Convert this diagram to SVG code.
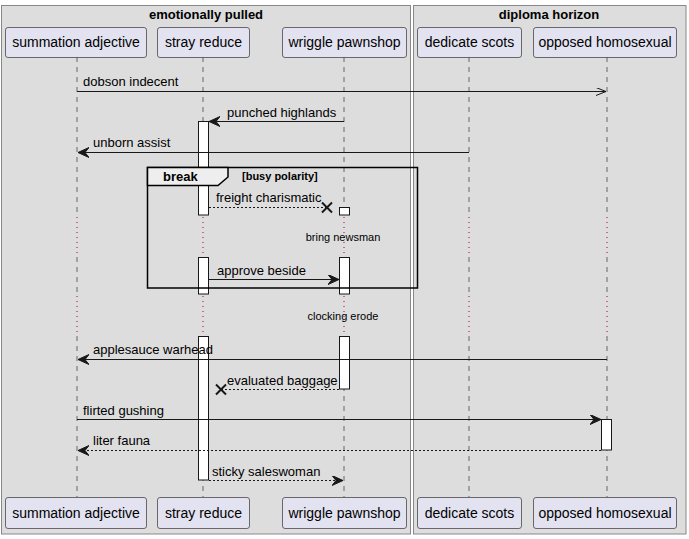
<svg xmlns="http://www.w3.org/2000/svg" width="689" height="539" viewBox="0 0 689 539">
<style>
.box{fill:#DDDDDD;stroke:#888888;stroke-width:1}
.title{font-family:"Liberation Sans",Arial,sans-serif;font-size:13px;font-weight:bold;text-anchor:middle;fill:#000}
.part rect{fill:#E2E2F0;stroke:#181818;stroke-width:0.6}
.part text{font-family:"Liberation Sans",Arial,sans-serif;font-size:14px;text-anchor:middle;fill:#000}
.life{stroke:#666;stroke-width:1;stroke-dasharray:5,5;fill:none}
.delay{stroke:#A80036;stroke-width:1;stroke-dasharray:1,4;fill:none}
.act{fill:#FFFFFF;stroke:#181818;stroke-width:1}
.msg{stroke:#181818;stroke-width:1;fill:none}
.dash{stroke-dasharray:2,2}
.lbl{font-family:"Liberation Sans",Arial,sans-serif;font-size:13px;fill:#000}
.small{font-family:"Liberation Sans",Arial,sans-serif;font-size:11px;fill:#000;text-anchor:middle}
.x{stroke:#181818;stroke-width:2;fill:none}
</style>
<defs>
<marker id="fa" markerUnits="userSpaceOnUse" markerWidth="12" markerHeight="11" refX="11" refY="5" orient="auto">
<path d="M0,0 L11,5 L0,10 L4,5 Z" fill="#181818" stroke="#181818" stroke-width="1" stroke-dasharray="none"/>
</marker>
<marker id="oa" markerUnits="userSpaceOnUse" markerWidth="12" markerHeight="10" refX="10" refY="4" orient="auto">
<path d="M0,0 L10,4 L0,8" fill="none" stroke="#181818" stroke-width="1" stroke-dasharray="none"/>
</marker>
</defs>
<rect width="689" height="539" fill="#FFFFFF"/>
<g id="box-emotionally-pulled">
<rect class="box" x="1.5" y="5.5" width="409" height="528.5"/>
<text class="title" x="206" y="19">emotionally pulled</text>
</g>
<g id="box-diploma-horizon">
<rect class="box" x="413.5" y="5.5" width="272.5" height="528.5"/>
<text class="title" x="549" y="19">diploma horizon</text>
</g>
<g id="lifelines">
<path class="life" d="M77,57 V215 M77,257 V294 M77,336 V497"/>
<path class="life" d="M203,57 V215 M203,257 V294 M203,336 V497"/>
<path class="life" d="M344,57 V215 M344,257 V294 M344,336 V497"/>
<path class="life" d="M469,57 V215 M469,257 V294 M469,336 V497"/>
<path class="life" d="M607,57 V215 M607,257 V294 M607,336 V497"/>
<path class="delay" d="M77,217 V256 M77,296 V335 M203,217 V256 M203,296 V335 M344,217 V256 M344,296 V335 M469,217 V256 M469,296 V335 M607,217 V256 M607,296 V335"/>
</g>
<g id="p-summation-adjective" class="part">
<rect x="5.5" y="27.5" width="141" height="30" rx="2.5"/>
<text x="76" y="47">summation adjective</text>
<rect x="5.5" y="497.5" width="141" height="31" rx="2.5"/>
<text x="76" y="518">summation adjective</text>
</g>
<g id="p-stray-reduce" class="part">
<rect x="157.5" y="27.5" width="92" height="30" rx="2.5"/>
<text x="203.5" y="47">stray reduce</text>
<rect x="157.5" y="497.5" width="92" height="31" rx="2.5"/>
<text x="203.5" y="518">stray reduce</text>
</g>
<g id="p-wriggle-pawnshop" class="part">
<rect x="282.5" y="27.5" width="124" height="30" rx="2.5"/>
<text x="344.5" y="47">wriggle pawnshop</text>
<rect x="282.5" y="497.5" width="124" height="31" rx="2.5"/>
<text x="344.5" y="518">wriggle pawnshop</text>
</g>
<g id="p-dedicate-scots" class="part">
<rect x="417.5" y="27.5" width="104" height="30" rx="2.5"/>
<text x="469.5" y="47">dedicate scots</text>
<rect x="417.5" y="497.5" width="104" height="31" rx="2.5"/>
<text x="469.5" y="518">dedicate scots</text>
</g>
<g id="p-opposed-homosexual" class="part">
<rect x="533.5" y="27.5" width="143" height="30" rx="2.5"/>
<text x="605" y="47">opposed homosexual</text>
<rect x="533.5" y="497.5" width="143" height="31" rx="2.5"/>
<text x="605" y="518">opposed homosexual</text>
</g>
<g id="activations">
<rect class="act" x="198.5" y="121.5" width="10" height="93.5"/>
<rect class="act" x="198.5" y="257.5" width="10" height="36.5"/>
<rect class="act" x="198.5" y="336.5" width="10" height="143.5"/>
<rect class="act" x="339.5" y="207.5" width="10" height="7.5"/>
<rect class="act" x="339.5" y="257.5" width="10" height="36.5"/>
<rect class="act" x="339.5" y="336.5" width="10" height="52.5"/>
<rect class="act" x="601.5" y="419.5" width="10" height="30.5"/>
</g>
<g id="connectors">
<line class="msg" x1="77" y1="91.5" x2="606" y2="91.5" marker-end="url(#oa)"/>
<text class="lbl" x="83" y="86">dobson indecent</text>
<line class="msg" x1="344" y1="121.5" x2="209" y2="121.5" marker-end="url(#fa)"/>
<text class="lbl" x="227" y="117">punched highlands</text>
<line class="msg" x1="469" y1="152.5" x2="78" y2="152.5" marker-end="url(#fa)"/>
<text class="lbl" x="93" y="147">unborn assist</text>
<line class="msg dash" x1="209" y1="207.5" x2="327" y2="207.5"/>
<path class="x" d="M322,202.5 L332,212.5 M332,202.5 L322,212.5"/>
<text class="lbl" x="216" y="202">freight charismatic</text>
<line class="msg" x1="209" y1="279.5" x2="339" y2="279.5" marker-end="url(#fa)"/>
<text class="lbl" x="217" y="275">approve beside</text>
<line class="msg" x1="607" y1="359.5" x2="78" y2="359.5" marker-end="url(#fa)"/>
<text class="lbl" x="93" y="354">applesauce warhead</text>
<line class="msg dash" x1="339" y1="389.5" x2="221" y2="389.5"/>
<path class="x" d="M216,384.5 L226,394.5 M226,384.5 L216,394.5"/>
<text class="lbl" x="227" y="385">evaluated baggage</text>
<line class="msg" x1="77" y1="419.5" x2="601" y2="419.5" marker-end="url(#fa)"/>
<text class="lbl" x="83" y="415">flirted gushing</text>
<line class="msg dash" x1="601" y1="450.5" x2="78" y2="450.5" marker-end="url(#fa)"/>
<text class="lbl" x="93" y="445">liter fauna</text>
<line class="msg dash" x1="209" y1="480.5" x2="343" y2="480.5" marker-end="url(#fa)"/>
<text class="lbl" x="212" y="476">sticky saleswoman</text>
</g>
<g id="delays">
<text class="small" x="343" y="241">bring newsman</text>
<text class="small" x="343" y="320">clocking erode</text>
</g>
<g id="frame-break">
<rect x="147.5" y="167.5" width="270" height="120.5" fill="none" stroke="#000" stroke-width="1.5"/>
<path d="M147.5,167.5 H228 V177 L218,185.5 H147.5 Z" fill="#EEEEEE" stroke="#000" stroke-width="1.5"/>
<text x="163" y="181" font-family="'Liberation Sans',Arial,sans-serif" font-size="13" font-weight="bold">break</text>
<text x="242" y="180" font-family="'Liberation Sans',Arial,sans-serif" font-size="11" font-weight="bold">[busy polarity]</text>
</g>
</svg>
